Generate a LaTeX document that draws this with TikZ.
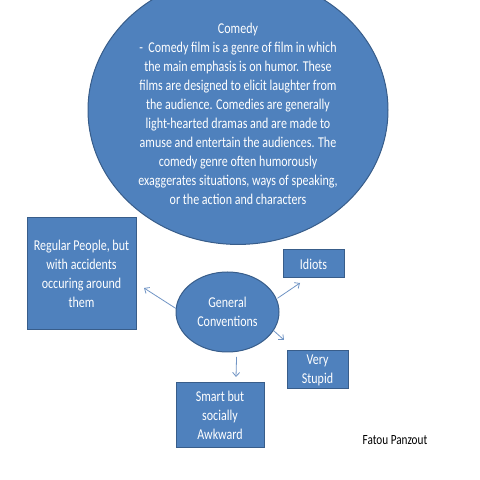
\documentclass[tikz,border=0pt]{standalone}
\usepackage{fontspec}
\setmainfont{Carlito}[FakeStretch=0.8]
\usetikzlibrary{shapes.geometric,arrows.meta}
\definecolor{fillblue}{HTML}{4F81BD}
\definecolor{edgeblue}{HTML}{385D8A}
\definecolor{arrblue}{HTML}{7094C4}
\tikzset{
  x=1pt,y=1pt,
  base/.style={fill=fillblue,draw=edgeblue,line width=1pt,text=white,align=center,inner sep=0pt,font=\fontsize{15}{19}\selectfont},
  oval/.style={base,ellipse},
  boxnode/.style={base,rectangle},
  arr/.style={draw=arrblue,line width=0.8pt,-{Straight Barb[length=4pt,width=7pt]}}
}
\begin{document}
\begin{tikzpicture}
\useasboundingbox (0,0) rectangle (480,480);
\node[oval,minimum width=300,minimum height=216] (comedy) at (238,370) {\rule{0pt}{19pt}Comedy\\ -\ \ Comedy film is a genre of film in which\\ the main emphasis is on humor. These\\ films are designed to elicit laughter from\\ the audience. Comedies are generally\\ light-hearted dramas and are made to\\ amuse and entertain the audiences. The\\ comedy genre often humorously\\ exaggerates situations, ways of speaking,\\ or the action and characters};
\node[oval,minimum width=103,minimum height=80] (gc) at (227.5,168) {General\\ Conventions};
\node[boxnode,minimum width=109,minimum height=112] (reg) at (81.5,206) {Regular People, but\\ with accidents\\ occuring around\\ them};
\node[boxnode,minimum width=61,minimum height=28] (idiots) at (313.5,216) {Idiots};
\node[boxnode,minimum width=61,minimum height=38] (vs) at (317.5,110) {Very\\ Stupid};
\node[boxnode,minimum width=88,minimum height=65] (smart) at (220,64.5) {Smart but\\ socially\\ Awkward};
\node[font=\fontsize{14}{16}\selectfont,inner sep=0pt] (author) at (395,40) {Fatou Panzout};
\coordinate (tipreg) at (144,192);
\coordinate (tipid) at (300,197);
\coordinate (tipvs) at (284,140);
\coordinate (tipsm) at (236,103);
\draw[arr] (gc.176) -- (tipreg);
\draw[arr,shorten <=1pt] (gc.15) -- (tipid);
\draw[arr] (gc.-22) -- (tipvs);
\draw[arr,shorten <=5pt] (gc.-77) -- (tipsm);
\end{tikzpicture}
\end{document}
